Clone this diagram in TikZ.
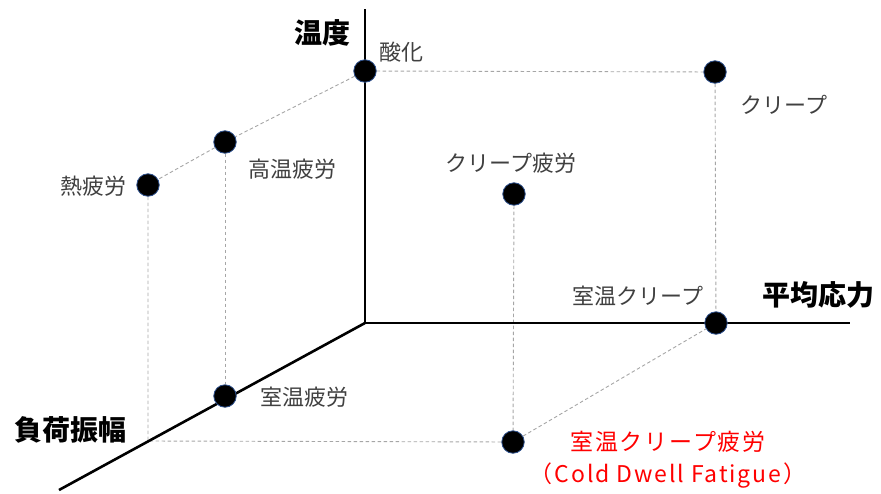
\documentclass[tikz,border=0pt]{standalone}
\usepackage{fontspec}
\newfontfamily\jp{Noto Sans CJK JP}
\usetikzlibrary{backgrounds}
\definecolor{txtgray}{HTML}{404040}
\definecolor{dashgray}{HTML}{A6A6A6}
\definecolor{dotrim}{HTML}{2F528F}
\definecolor{lblred}{HTML}{FF0000}
\begin{document}
\begin{tikzpicture}[x=1pt,y=-1pt,
  dot/.style={circle, fill=black, draw=dotrim, line width=0.8pt, minimum size=22.5pt, inner sep=0pt},
  axisline/.style={line width=2.6pt, black},
  guide/.style={dashgray, line width=0.9pt, dash pattern=on 3.5pt off 2.5pt},
  lbl/.style={font=\jp\fontsize{22}{25}\selectfont, text=txtgray, inner sep=0pt},
  axlbl/.style={font=\jp\bfseries\fontsize{28}{32}\selectfont, text=black, inner sep=0pt},
  redlbl/.style={font=\jp\fontsize{23}{32}\selectfont\addfontfeature{LetterSpace=8}, text=lblred, inner sep=0pt, align=center}]
\useasboundingbox (0,0) rectangle (881,493);
% axes
\coordinate (O) at (365,323);
\coordinate (ztop) at (365,9);
\coordinate (xend) at (850,323);
\coordinate (yend) at (59,490);
% dots
\node[dot] (oxid) at (365,71) {};
\node[dot] (creep) at (715,72) {};
\node[dot] (htf) at (225,142) {};
\node[dot] (tf) at (148,185) {};
\node[dot] (cf) at (514,194) {};
\node[dot] (rtc) at (716,323) {};
\node[dot] (rtf) at (225,396) {};
\node[dot] (cdf) at (513,442) {};
\coordinate (tfbase) at (148,441);
\begin{scope}[on background layer]
  \draw[guide] (oxid) -- (creep);
  \draw[guide] (creep) -- (rtc);
  \draw[guide] (oxid) -- (htf);
  \draw[guide] (htf) -- (tf);
  \draw[guide] (htf) -- (rtf);
  \draw[guide] (tf) -- (tfbase) -- (cdf);
  \draw[guide] (cdf) -- (rtc);
  \draw[guide] (cf) -- (cdf);
  \draw[axisline] (ztop) -- (O) -- (xend);
  \draw[axisline] (O) -- (yend);
\end{scope}
% axis labels
\node[axlbl] (lz) at (322,33) {温度};
\node[axlbl] (lx) at (818,295) {平均応力};
\node[axlbl] (ly) at (70,430) {負荷振幅};
% point labels
\node[lbl] (loxid) at (401,52) {酸化};
\node[lbl] (lcreep) at (784,105) {クリープ};
\node[lbl] (lhtf) at (292,169) {高温疲労};
\node[lbl] (ltf) at (93,186) {熱疲労};
\node[lbl] (lcf) at (511,163) {クリープ疲労};
\node[lbl] (lrtc) at (638,296) {室温クリープ};
\node[lbl] (lrtf) at (304,397) {室温疲労};
\node[redlbl] (lcdf) at (668,460) {室温クリープ疲労\\（Cold Dwell Fatigue）};
\end{tikzpicture}
\end{document}
